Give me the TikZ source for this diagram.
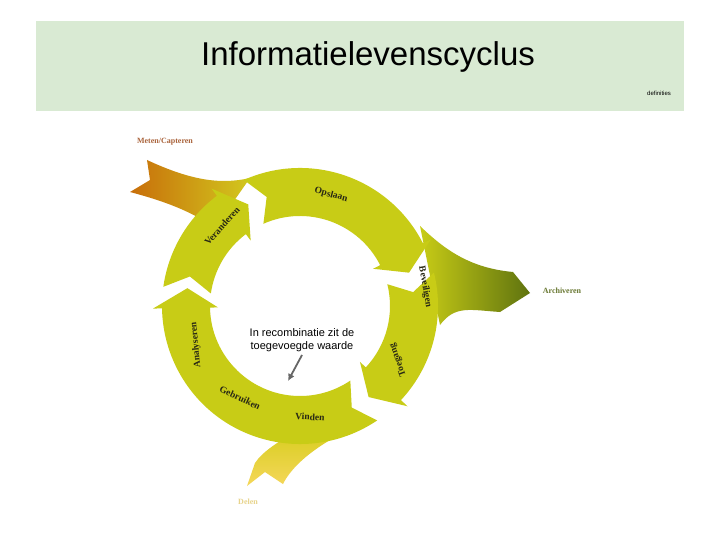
\documentclass[tikz,border=0pt]{standalone}
\usepackage{fontspec}
\usetikzlibrary{arrows.meta}
\setmainfont{Liberation Sans}
\newfontfamily\slab{Liberation Serif}
\definecolor{hdr}{RGB}{217,234,211}
\definecolor{ringc}{RGB}{200,204,22}
\definecolor{labc}{RGB}{40,40,20}
\definecolor{orA}{RGB}{200,110,10}
\definecolor{orB}{RGB}{210,200,30}
\definecolor{grB}{RGB}{95,115,15}
\definecolor{yeA}{RGB}{215,205,30}
\definecolor{yeB}{RGB}{245,215,90}
\definecolor{metc}{RGB}{170,100,60}
\definecolor{arcc}{RGB}{105,120,50}
\definecolor{delc}{RGB}{232,212,140}
\begin{document}
\begin{tikzpicture}[x=1pt,y=-1pt,
  ring/.style={fill=ringc},
  lab/.style={font=\slab\bfseries\fontsize{9.5}{9.5}\selectfont, text=labc},
  side/.style={font=\slab\bfseries\fontsize{8}{8}\selectfont}]
\useasboundingbox (0,0) rectangle (720,540);
\fill[white] (0,0) rectangle (720,540);
\fill[hdr] (36,21) rectangle (684,111);
\node (title) at (368,57) {\fontsize{33}{33}\selectfont Informatielevenscyclus};
\node (def) at (659,93) {\fontsize{6}{6}\selectfont definities};
% side ribbons
\shade[left color=orA, right color=orB]
  (147,160) .. controls (190,180) and (220,185) .. (250,178) -- (215,228)
  .. controls (190,210) and (160,200) .. (130,192) -- (150,180) -- cycle;
\shade[left color=ringc, right color=grB]
  (420,226) .. controls (445,250) and (470,268) .. (513,272) -- (530,293)
  -- (500,312) .. controls (470,310) and (455,305) .. (440,325) -- cycle;
\shade[top color=yeA, bottom color=yeB]
  (300,430) .. controls (280,440) and (262,452) .. (255,463) -- (247,486)
  -- (265,472) -- (283,484) .. controls (290,470) and (305,455) .. (330,440) -- cycle;
% ring arrows
\begin{scope}[shift={(300,306)}, yscale=-1]
\foreach \a/\b in {172/118, 114/18, 14/-52, -56/-188}{
  \fill[ring] (\a:138) arc[start angle=\a,end angle=\b+9,radius=138] -- (\b+9:147)
    -- (\b-1:114) -- (\b+9:82) -- (\b+9:90) arc[start angle=\b+9,end angle=\a,radius=90]
    -- (\a-7:114) -- cycle;
}
\end{scope}
\node[lab,rotate=-15] (ops) at (331,195) {Opslaan};
\node[lab,rotate=48] (ver) at (222,226) {Veranderen};
\node[lab,rotate=-80] (bev) at (425,287) {Beveiligen};
\node[lab,rotate=110] (toe) at (398,360) {Toegang};
\node[lab,rotate=95] (ana) at (196,345) {Analyseren};
\node[lab,rotate=-25] (geb) at (240,398) {Gebruiken};
\node[lab,rotate=-3] (vin) at (310,417) {Vinden};
\node[side,text=metc] (met) at (165,142) {Meten/Capteren};
\node[side,text=arcc] (arc) at (562,291) {Archiveren};
\node[side,text=delc] (del) at (248,502) {Delen};
\node[align=center,font=\fontsize{11}{12.5}\selectfont] (note) at (302,340) {In recombinatie zit de\\toegevoegde waarde};
\coordinate (nt) at (302,355);
\coordinate (ne) at (288,381);
\draw[gray!80!black,line width=1.8pt,-{Latex[length=7pt,width=7pt]}] (nt) -- (ne);
\end{tikzpicture}
\end{document}
